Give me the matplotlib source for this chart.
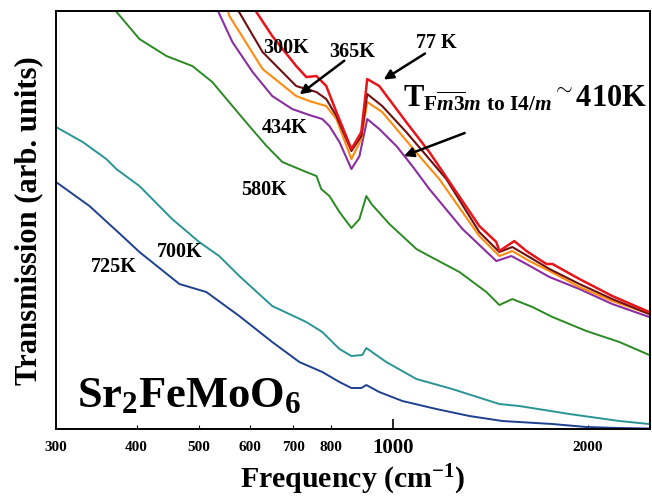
import matplotlib
matplotlib.use("Agg")
import matplotlib.pyplot as plt
from matplotlib.ticker import FixedLocator

# Sr2FeMoO6 transmission spectra, arbitrary units

f_725 = [300, 338, 380, 404, 466, 513, 577, 649, 715, 776, 825, 861, 892, 908, 951, 1033, 1166, 1312, 1476, 1765, 1992, 2241, 2494]
t_725 = [247, 223, 193, 177, 145, 137, 113, 87, 67, 57, 47, 41, 41, 44, 37, 28, 20, 13, 8, 5, 2, 1, 0.5]

f_700 = [300, 330, 359, 372, 404, 454, 500, 537, 577, 649, 733, 776, 825, 861, 895, 908, 975, 1086, 1234, 1460, 1568, 1875, 2241, 2494]
t_700 = [302, 287, 270, 260, 243, 210, 187, 173, 153, 123, 107, 97, 80, 73, 74, 81, 67, 50, 40, 25, 23, 15, 8, 5]

f_580 = [369, 404, 445, 488, 524, 563, 598, 636, 673, 733, 760, 773, 796, 825, 861, 886, 908, 925, 986, 1086, 1137, 1266, 1394, 1460, 1529, 1643, 1765, 1992, 2241, 2494]
t_580 = [420, 390, 373, 363, 347, 323, 303, 283, 267, 257, 253, 240, 233, 217, 201, 210, 233, 225, 205, 180, 173, 157, 137, 124, 130, 122, 112, 98, 87, 74]

f_434 = [533, 563, 605, 649, 697, 741, 776, 796, 825, 861, 886, 911, 951, 1011, 1070, 1137, 1280, 1444, 1524, 1608, 1746, 1943, 2185, 2494]
t_434 = [420, 387, 357, 333, 320, 314, 310, 303, 287, 260, 273, 310, 300, 283, 263, 240, 200, 168, 173, 165, 152, 140, 125, 112]

f_365 = [553, 557, 627, 707, 741, 787, 816, 861, 892, 911, 961, 1033, 1097, 1178, 1359, 1460, 1529, 1625, 1746, 1943, 2185, 2494]
t_365 = [420, 413, 360, 333, 328, 323, 310, 270, 290, 327, 317, 293, 273, 250, 193, 173, 178, 168, 158, 142, 128, 115]

f_300 = [573, 627, 707, 760, 787, 816, 861, 892, 911, 961, 1047, 1137, 1208, 1359, 1460, 1529, 1625, 1746, 1943, 2185, 2494]
t_300 = [420, 377, 343, 337, 330, 313, 278, 293, 335, 323, 297, 270, 250, 197, 177, 182, 172, 160, 145, 130, 115]

f_77 = [609, 649, 707, 733, 760, 787, 816, 861, 892, 911, 951, 1047, 1137, 1234, 1359, 1444, 1460, 1540, 1608, 1727, 1765, 1943, 2185, 2494]
t_77 = [420, 393, 363, 352, 353, 343, 317, 280, 297, 350, 343, 307, 277, 243, 203, 187, 178, 188, 178, 165, 165, 150, 133, 117]

minor_ticks = [300, 400, 500, 600, 700, 800, 2000]
major_ticks = [1000]

plt.rcParams['font.family'] = 'Liberation Serif'
plt.rcParams['font.weight'] = 'bold'
plt.rcParams['mathtext.fontset'] = 'custom'
plt.rcParams['mathtext.rm'] = 'Liberation Serif'
plt.rcParams['mathtext.bf'] = 'Liberation Serif:bold'
plt.rcParams['mathtext.it'] = 'Liberation Serif:italic'
plt.rcParams['mathtext.bfit'] = 'Liberation Serif:italic:bold'

fig = plt.figure(figsize=(6.52, 5.02), dpi=100)
ax = fig.add_axes([0.086, 0.1434, 0.911, 0.8326])

ax.plot(f_725, t_725, color='#1f3f8f', lw=1.4)
ax.plot(f_700, t_700, color='#2a9494', lw=1.4)
ax.plot(f_580, t_580, color='#2a8a22', lw=1.4)
ax.plot(f_434, t_434, color='#8a2ea0', lw=1.5)
ax.plot(f_365, t_365, color='#ff8a10', lw=1.5)
ax.plot(f_300, t_300, color='#6e1010', lw=1.5)
ax.plot(f_77, t_77, color='#e8141a', lw=1.8)

ax.set_xscale('log')
ax.set_xlim(300, 2500)
ax.set_ylim(0, 418)

ax.xaxis.set_major_locator(FixedLocator(major_ticks))
ax.xaxis.set_minor_locator(FixedLocator(minor_ticks))
ax.set_xticklabels(['1000'], fontsize=15, fontweight='bold')
ax.set_xticklabels([str(v) for v in minor_ticks], minor=True, fontsize=11, fontweight='bold')
ax.tick_params(axis='x', which='major', direction='in', length=7, width=1.2, pad=6)
ax.tick_params(axis='x', which='minor', direction='in', length=3, width=0.8, pad=8)
ax.set_yticks([])
for s in ax.spines.values():
    s.set_linewidth(1.4)

ax.set_xlabel(r'Frequency (cm$^{\mathbf{-1}}$)', fontsize=21.5, fontweight='bold', labelpad=3)
ax.set_ylabel('Transmission (arb. units)', fontsize=22, fontweight='bold', labelpad=9)

lab = dict(fontsize=14.5, fontweight='bold', ha='center', va='center')
ax.text(683, 382, '300K', **lab)
ax.text(864, 378, '365K', **lab)
ax.text(1166, 387, '77 K', **lab)
ax.text(678, 302, '434K', **lab)
ax.text(631, 240, '580K', **lab)
ax.text(466, 178, '700K', **lab)
ax.text(369, 163, '725K', **lab)

arr = dict(arrowstyle='-|>', color='black', lw=1.8, mutation_scale=14)
ax.annotate('', xy=(710, 333), xytext=(846, 370), arrowprops=arr)
ax.annotate('', xy=(958, 348), xytext=(1129, 377), arrowprops=arr)
ax.annotate('', xy=(1029, 272), xytext=(1302, 297), arrowprops=arr)

ax.text(0.584, 0.773,
        r'$\mathbf{T}_{\mathbf{F}\overline{\mathbfit{m}\mathbf{3}}\mathbfit{m}\ \mathbf{to\ I4}/\mathbfit{m}}{}^{\sim}\mathbf{410K}$',
        transform=ax.transAxes, fontsize=22, ha='left', va='baseline')

ax.text(0.035, 0.055, r'$\mathbf{Sr_2FeMoO_6}$', transform=ax.transAxes,
        fontsize=32, ha='left', va='baseline')

fig.savefig('out.png', dpi=100)
